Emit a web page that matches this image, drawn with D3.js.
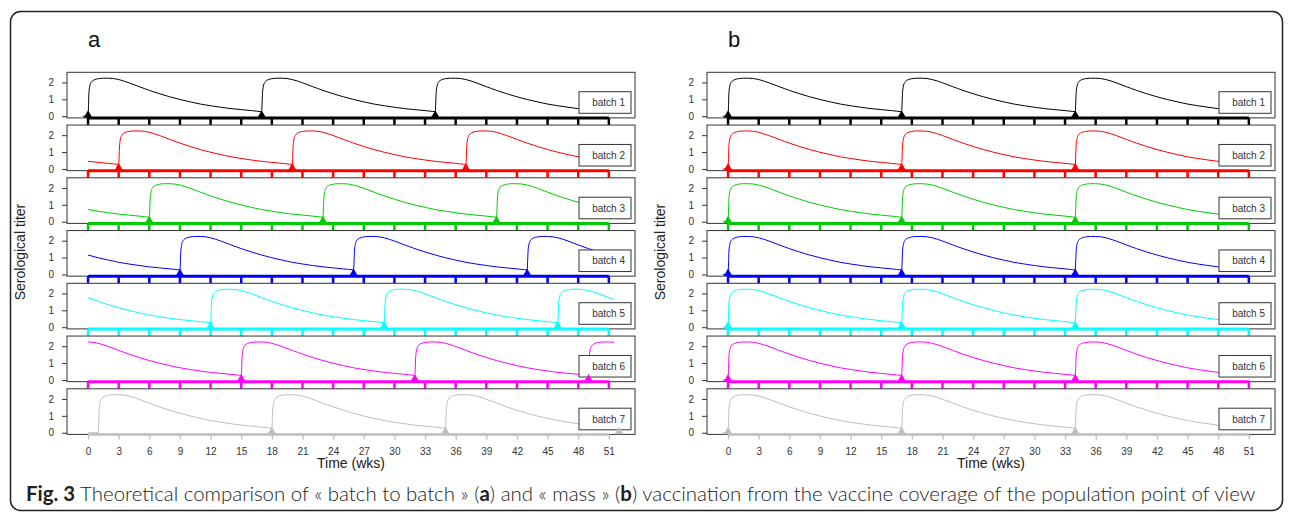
<!DOCTYPE html>
<html>
<head>
<meta charset="utf-8">
<script src="https://cdn.jsdelivr.net/npm/d3@7"></script>
<style>
  body { margin: 0; background: #fff; }
  svg { display: block; }
  text { font-family: "Liberation Sans", Arial, sans-serif; }
</style>
</head>
<body>
<script>
// tick labels
var tickWeeks = [0, 3, 6, 9, 12, 15, 18, 21, 24, 27, 30, 33, 36, 39, 42, 45, 48, 51];
var titerTicks = [0, 1, 2];

var batchNames = ["batch 1", "batch 2", "batch 3", "batch 4", "batch 5", "batch 6", "batch 7"];
var batchColors = ["#000000", "#ff0000", "#00cd00", "#0000ff", "#00ffff", "#ff00ff", "#bebebe"];

var profileWeeks = [0.1, 0.3, 0.6, 1, 1.5, 2, 2.5, 3, 4, 5, 5.5, 6, 7, 8, 9, 10, 11, 12, 13, 14, 15, 16, 16.5, 17];
var profileTiter = [1.5, 2.0, 2.15, 2.22, 2.25, 2.25, 2.23, 2.17, 1.98, 1.75, 1.64, 1.53, 1.33, 1.15, 0.99, 0.85, 0.72, 0.62, 0.53, 0.45, 0.39, 0.33, 0.30, 0.27];

// panel a : batch to batch
var boostsA = [[0, 17, 34], [-14, 3, 20, 37], [-11, 6, 23, 40], [-8, 9, 26, 43], [-5, 12, 29, 46], [-2, 15, 32, 49], [1, 18, 35, 52]];
var markersA = [[0, 17, 34], [3, 20, 37], [6, 23, 40], [9, 26, 43], [12, 29, 46], [15, 32, 49], [18, 35, 52]];
var startA = [-0.5, 0, 0, 0, 0, 0, 0];

// panel b : mass
var boostsB = [[0, 17, 34], [0, 17, 34], [0, 17, 34], [0, 17, 34], [0, 17, 34], [0, 17, 34], [0, 17, 34]];
var markersB = [[0, 17, 34], [0, 17, 34], [0, 17, 34], [0, 17, 34], [0, 17, 34], [0, 17, 34], [0, 17, 34]];
var startB = [-0.5, -0.5, -0.5, -0.5, -0.5, -0.5, -0.5];

var endWeek = 51.5;

var width = 1290, height = 515;
var rowTop = 72.3, rowStep = 52.75, rowH = 45.6;

var svg = d3.select("body").append("svg")
    .attr("width", width)
    .attr("height", height);

// outer frame
svg.append("rect")
    .attr("x", 10.5).attr("y", 11.5)
    .attr("width", 1272).attr("height", 499)
    .attr("rx", 10)
    .attr("fill", "none")
    .attr("stroke", "#222")
    .attr("stroke-width", 1.5);

function buildSeries(boosts, start) {
    var pts = [];
    boosts.forEach(function(b, i) {
        if (i === 0 && b > start) {
            pts.push([start, 0]);
            pts.push([b, 0]);
        }
        profileWeeks.forEach(function(w, j) {
            var t = b + w;
            if (t >= start && t <= endWeek) pts.push([t, profileTiter[j]]);
        });
    });
    return pts;
}

var panels = [
    {label: "a", dx: 0, boosts: boostsA, markers: markersA, starts: startA},
    {label: "b", dx: 640, boosts: boostsB, markers: markersB, starts: startB}
];

panels.forEach(function(p) {
    var g = svg.append("g");

    var x = d3.scaleLinear()
        .domain([-2.06, 53.56])
        .range([67 + p.dx, 635 + p.dx]);

    g.append("text")
        .attr("x", 88 + p.dx).attr("y", 47)
        .style("font-size", "22px")
        .attr("fill", "#111")
        .text(p.label);

    batchNames.forEach(function(name, i) {
        var top = rowTop + i * rowStep;
        var y = d3.scaleLinear()
            .domain([-0.1, 2.6])
            .range([top + rowH, top]);
        var col = batchColors[i];
        var last = i === batchNames.length - 1;

        // plot box
        g.append("rect")
            .attr("x", x.range()[0]).attr("y", top)
            .attr("width", x.range()[1] - x.range()[0]).attr("height", rowH)
            .attr("fill", "none")
            .attr("stroke", "#333")
            .attr("stroke-width", 1);

        // y axis
        var ya = g.append("g")
            .attr("transform", "translate(" + x.range()[0] + ",0)")
            .call(d3.axisLeft(y).tickValues(titerTicks).tickFormat(d3.format("d"))
                .tickSize(5).tickPadding(8));
        ya.select(".domain").remove();
        ya.selectAll("line").attr("stroke", "#333");
        ya.selectAll("text").style("font-size", "10px").attr("fill", "#333")
            .style("font-family", "Liberation Sans, Arial, sans-serif");

        // titer curve
        var line = d3.line()
            .x(function(d) { return x(d[0]); })
            .y(function(d) { return y(d[1]); })
            .curve(d3.curveMonotoneX);
        g.append("path")
            .datum(buildSeries(p.boosts[i], p.starts[i]))
            .attr("d", line)
            .attr("fill", "none")
            .attr("stroke", col)
            .attr("stroke-width", 1);

        // legend
        var lx = x.range()[1] - 56, ly = top + 19.4;
        g.append("rect")
            .attr("x", lx).attr("y", ly)
            .attr("width", 52).attr("height", 21.6)
            .attr("fill", "#fff")
            .attr("stroke", "#333")
            .attr("stroke-width", 1);
        g.append("text")
            .attr("x", lx + 46).attr("y", ly + 14.5)
            .attr("text-anchor", "end")
            .style("font-size", "10px")
            .attr("fill", "#333")
            .text(name);

        // week axis in batch colour
        var base = top + rowH;
        if (!last) {
            g.append("line")
                .attr("x1", x(tickWeeks[0])).attr("x2", x(tickWeeks[tickWeeks.length - 1]))
                .attr("y1", base).attr("y2", base)
                .attr("stroke", col).attr("stroke-width", 3);
            g.selectAll(null).data(tickWeeks).enter().append("line")
                .attr("x1", function(d) { return x(d); })
                .attr("x2", function(d) { return x(d); })
                .attr("y1", base).attr("y2", base + 7)
                .attr("stroke", col).attr("stroke-width", 2.5);
        } else {
            g.append("line")
                .attr("x1", x(tickWeeks[0])).attr("x2", x(tickWeeks[tickWeeks.length - 1]))
                .attr("y1", base).attr("y2", base)
                .attr("stroke", col).attr("stroke-width", 2.5);
            var xa = g.append("g")
                .attr("transform", "translate(0," + base + ")")
                .call(d3.axisBottom(x).tickValues(tickWeeks).tickSize(5).tickPadding(9));
            xa.select(".domain").remove();
            xa.selectAll("line").attr("stroke", col).attr("stroke-width", 1.3);
            xa.selectAll("text").style("font-size", "10px").attr("fill", "#333")
                .style("font-family", "Liberation Sans, Arial, sans-serif");
        }

        // vaccination markers
        g.selectAll(null).data(p.markers[i]).enter().append("path")
            .attr("d", d3.symbol().type(d3.symbolTriangle).size(32))
            .attr("transform", function(d) {
                return "translate(" + x(d) + "," + (y(0) - 1) + ")";
            })
            .attr("fill", col);
    });

    g.append("text")
        .attr("x", (x.range()[0] + x.range()[1]) / 2)
        .attr("y", 468)
        .attr("text-anchor", "middle")
        .style("font-size", "14px")
        .attr("fill", "#222")
        .text("Time (wks)");

    g.append("text")
        .attr("transform", "translate(" + (25 + p.dx) + "," + 252 + ") rotate(-90)")
        .attr("text-anchor", "middle")
        .style("font-size", "14px")
        .attr("fill", "#222")
        .text("Serological titer");
});

// caption
var capFont = "Lato, 'Open Sans', sans-serif";
var cap = svg.append("text")
    .attr("x", 26).attr("y", 500.5)
    .style("font-family", capFont)
    .style("font-size", "19px")
    .attr("fill", "#222");
var parts = [
    ["Fig. 3", true], [" Theoretical comparison of \u00ab batch to batch \u00bb (", false],
    ["a", true], [") and \u00ab mass \u00bb (", false], ["b", true],
    [") vaccination from the vaccine coverage of the population point of view", false]
];
parts.forEach(function(d) {
    cap.append("tspan")
        .style("font-weight", d[1] ? "bold" : "300")
        .style("font-family", capFont)
        .text(d[0]);
});
var capLen = cap.node().getComputedTextLength();
cap.style("font-size", (19 * 1230 / capLen) + "px");
</script>
</body>
</html>
